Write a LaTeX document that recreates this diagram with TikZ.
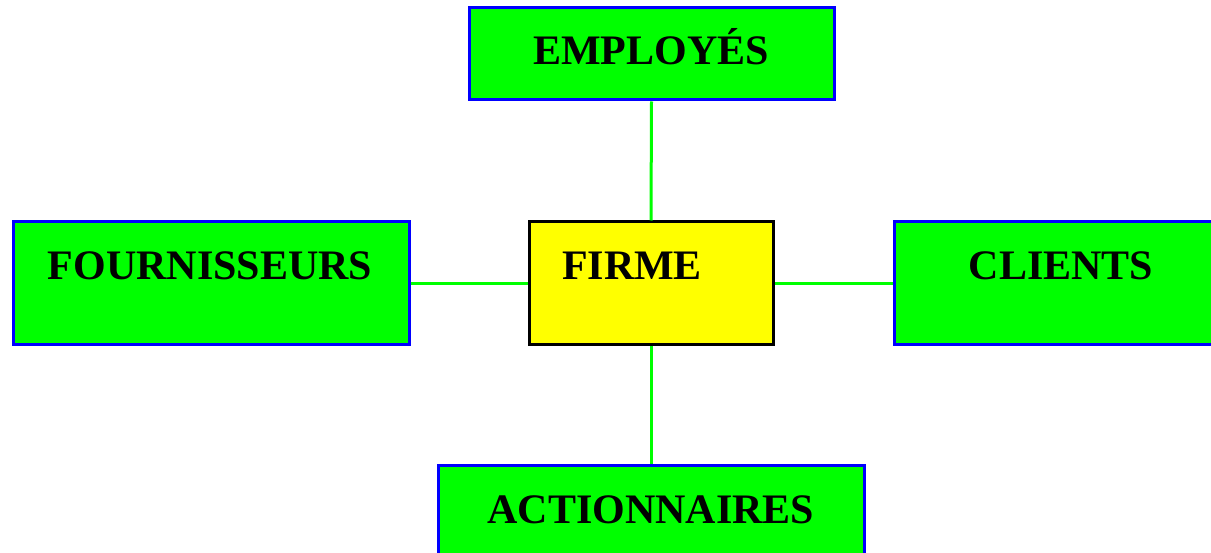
\documentclass[tikz,border=0pt]{standalone}
\usepackage{fontspec}
\setmainfont{Liberation Serif}
\definecolor{boxgreen}{RGB}{0,255,0}
\definecolor{boxblue}{RGB}{0,0,255}
\definecolor{boxyellow}{RGB}{255,255,0}
\begin{document}
\begin{tikzpicture}[x=1pt,y=-1pt,
  gbox/.style={draw=boxblue,fill=boxgreen,line width=3pt,inner sep=0pt},
  ybox/.style={draw=black,fill=boxyellow,line width=3pt,inner sep=0pt},
  lbl/.style={font=\fontsize{42}{48}\selectfont\bfseries,anchor=base,inner sep=0pt},
  link/.style={draw=boxgreen,line width=3pt}]
\useasboundingbox (0,0) rectangle (1211,553);
\clip (0,0) rectangle (1211,553);
\node[gbox,minimum width=365pt,minimum height=92pt] (emp) at (651.5,54) {};
\node[gbox,minimum width=396pt,minimum height=123pt] (four) at (211,283.5) {};
\node[ybox,minimum width=244pt,minimum height=123pt] (firme) at (651,283.5) {};
\node[gbox,minimum width=346pt,minimum height=123pt] (cli) at (1067,283.5) {};
\node[gbox,minimum width=426pt,minimum height=105pt] (act) at (651,517.5) {};
\draw[link] (emp.south) -- (firme.north);
\draw[link] (act.north) -- (firme.south);
\draw[link] (four.east) -- (firme.west);
\draw[link] (cli.west) -- (firme.east);
\node[lbl] (tEmp) at (651,65) {EMPLOYÉS};
\node[lbl] (tFour) at (210,280) {FOURNISSEURS};
\node[lbl] (tFirme) at (632,280) {FIRME};
\node[lbl] (tCli) at (1061,280) {CLIENTS};
\node[lbl] (tAct) at (651,523) {ACTIONNAIRES};
\end{tikzpicture}
\end{document}
